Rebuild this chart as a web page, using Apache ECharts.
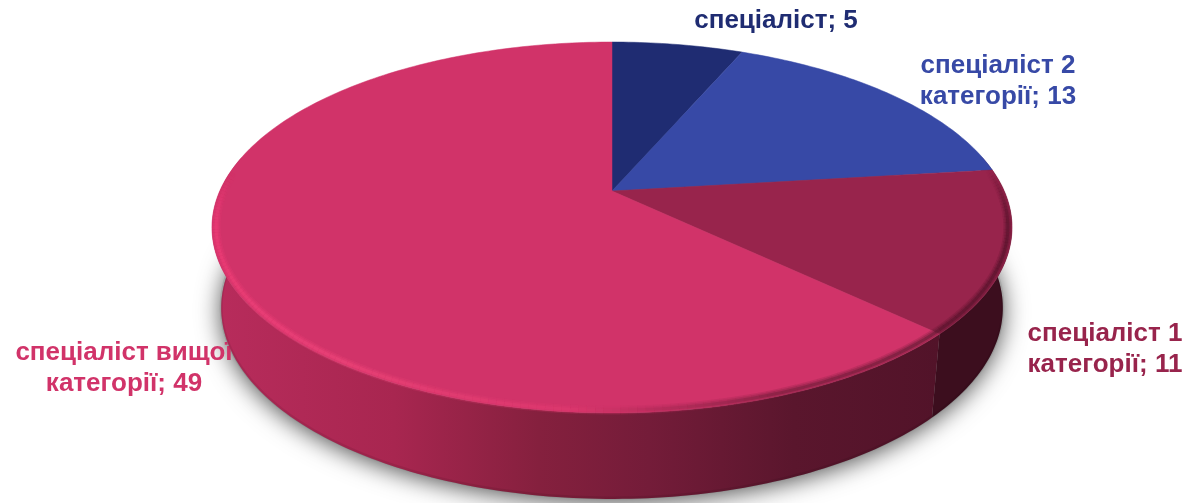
<!DOCTYPE html>
<html>
<head>
<meta charset="utf-8">
<style>
  html, body { margin: 0; padding: 0; background: #fff; }
  #main { width: 1189px; height: 503px; }
</style>
<script src="https://cdn.jsdelivr.net/npm/echarts@6/dist/echarts.min.js"></script>
</head>
<body>
<div id="main"></div>
<script>
// дані діаграми
const names = ['спеціаліст', 'спеціаліст 2\nкатегорії', 'спеціаліст 1\nкатегорії', 'спеціаліст вищої\nкатегорії']
const values = [5, 13, 11, 49]
const topColors = ['#1f2c72', '#3749a6', '#98244c', '#d13369']
const labelCenters = [[776, 21], [998, 81], [1105, 349], [124, 368]]

const total = values.reduce((a, b) => a + b, 0)
const DEG = Math.PI / 180

// перспектива: верхня площина кола на екрані
const apex = [612, 191]
const A = 392.2
const B = 178.3
const P = 0.1968
const DEPTH = 86
const SILHOUETTE = Math.acos(P) / DEG // кут, де стінка стає видимою

// відблиск по краю: кут, колір, прозорість
const rimStops = [
  [83, '#4f1228', 0],
  [100, '#4f1228', 0.9],
  [133, '#4f1228', 0.9],
  [134, '#5a1a30', 0.9],
  [160, '#6e1c38', 0.9],
  [175, '#b02c58', 0.9],
  [185, '#e03a70', 0.9],
  [215, '#ee4579', 1],
  [258, '#f03c78', 1],
  [276, '#f03c78', 0]
]
const rimLayers = [[9, 0.2], [6, 0.3], [3, 0.5]]

function project(deg, r) {
  const k = r === undefined ? 1 : r
  const u = k * Math.sin(deg * DEG)
  const v = k * Math.cos(deg * DEG)
  const w = 1 + P * v
  return [apex[0] + (A * u) / w, apex[1] - (B * v) / w]
}

function dropToBase(p) {
  return [apex[0] + (p[0] - apex[0]) * 0.977, p[1] + DEPTH - 0.03 * (415 - p[1])]
}

function sliceRange(i) {
  const before = values.slice(0, i).reduce((a, b) => a + b, 0)
  return [(before / total) * 360, ((before + values[i]) / total) * 360]
}

function arcPoints(from, to, r) {
  const pts = []
  const n = Math.max(2, Math.ceil(to - from))
  for (let i = 0; i <= n; i++) pts.push(project(from + ((to - from) * i) / n, r))
  return pts
}

const seriesData = values.map((v, i) => ({ value: v, name: names[i] }))

function renderShadow() {
  const base = arcPoints(0, 360).map(dropToBase)
  return {
    type: 'polygon',
    shape: { points: base },
    style: { fill: '#8a8a8a', shadowBlur: 24, shadowColor: 'rgba(0,0,0,0.7)', shadowOffsetY: 3 }
  }
}

function wallFill(i) {
  if (i === 2) return '#3c0e1e'
  return new echarts.graphic.LinearGradient(0, 0, 1, 0, [
    { offset: 0, color: '#b82c5c' },
    { offset: 0.25, color: '#a82650' },
    { offset: 0.45, color: '#85203e' },
    { offset: 0.6, color: '#741c39' },
    { offset: 0.8, color: '#5a162d' },
    { offset: 1, color: '#521329' }
  ])
}

function renderWall(params) {
  const r = sliceRange(params.dataIndex)
  const from = Math.max(r[0], SILHOUETTE)
  const to = Math.min(r[1], 360 - SILHOUETTE)
  if (from >= to) return null
  const upper = arcPoints(from, to)
  const lower = upper.map(dropToBase)
  return {
    type: 'group',
    children: [
      {
        type: 'polygon',
        shape: { points: upper.concat(lower.slice().reverse()) },
        style: { fill: wallFill(params.dataIndex) }
      },
      {
        type: 'polyline',
        shape: { points: lower.map((p) => [p[0], p[1] - 1]) },
        style: { fill: null, stroke: 'rgba(0,0,0,0.08)', lineWidth: 3 }
      }
    ]
  }
}

function renderTop(params) {
  const i = params.dataIndex
  const r = sliceRange(i)
  return {
    type: 'polygon',
    shape: { points: [apex].concat(arcPoints(r[0], r[1])) },
    style: { fill: topColors[i], stroke: topColors[i], lineWidth: 0.5 }
  }
}

function rimAt(deg) {
  for (let i = 1; i < rimStops.length; i++) {
    const a = rimStops[i - 1]
    const b = rimStops[i]
    if (deg <= b[0]) {
      const t = (deg - a[0]) / (b[0] - a[0])
      return { color: echarts.color.lerp(t, [a[1], b[1]]), alpha: a[2] + (b[2] - a[2]) * t }
    }
  }
  return { color: '#f03c78', alpha: 0 }
}

// край малюю короткими шматками, щоб відблиск плавно згасав
function renderRim() {
  const children = []
  const from = rimStops[0][0]
  const to = rimStops[rimStops.length - 1][0]
  for (let d = from; d < to; d += 1) {
    const c = rimAt(d + 0.5)
    rimLayers.forEach((layer) => {
      children.push({
        type: 'polyline',
        shape: { points: [project(d, 0.99), project(d + 1, 0.99)] },
        style: { fill: null, stroke: c.color, lineWidth: layer[0], opacity: layer[1] * c.alpha }
      })
    })
  }
  return { type: 'group', children }
}

function renderLabel(params) {
  const i = params.dataIndex
  return {
    type: 'text',
    style: {
      x: labelCenters[i][0],
      y: labelCenters[i][1],
      text: names[i] + '; ' + values[i],
      align: 'center',
      verticalAlign: 'middle',
      fill: topColors[i],
      font: 'bold 26px "Liberation Sans", Arial, sans-serif',
      lineHeight: 31
    }
  }
}

function customSeries(name, z, renderItem, data) {
  return { name, type: 'custom', coordinateSystem: 'none', z, silent: true, animation: false, data: data || seriesData, renderItem }
}

const chart = echarts.init(document.getElementById('main'))
chart.setOption({
  backgroundColor: '#fff',
  animation: false,
  series: [
    customSeries('shadow', 1, renderShadow, [0]),
    // підпис вищої категорії частково ховається за стінкою
    customSeries('labelsBehind', 2, (p) => (p.dataIndex === 3 ? renderLabel(p) : null)),
    customSeries('walls', 3, renderWall),
    customSeries('tops', 4, renderTop),
    customSeries('rim', 5, renderRim, [0]),
    customSeries('labels', 6, (p) => (p.dataIndex === 3 ? null : renderLabel(p)))
  ]
})
</script>
</body>
</html>
